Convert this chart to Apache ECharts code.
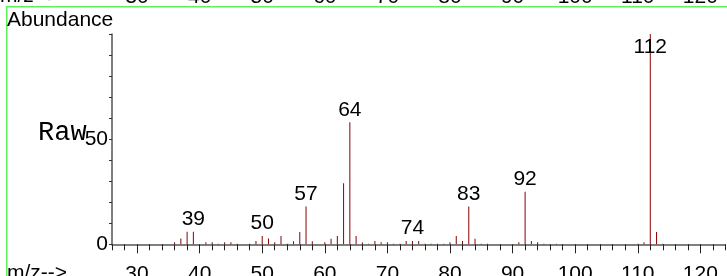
<!DOCTYPE html>
<html>
<head>
<meta charset="utf-8">
<style>
  html, body { margin: 0; padding: 0; background: #fff; }
  #chart { width: 727px; height: 276px; }
</style>
<script src="https://cdn.jsdelivr.net/npm/echarts@6/dist/echarts.min.js"></script>
</head>
<body>
<div id="chart"></div>
<script>
  // mass spectrum
  const mzMin = 26
  const mzMax = 124
  const mz = [36, 37, 38, 39, 41, 42, 43, 44, 45, 46, 48, 49, 50, 51, 52, 53, 54, 55, 56, 57, 58, 60, 61, 62, 63, 64, 65, 66, 67, 68, 69, 70, 71, 72, 73, 74, 75, 76, 77, 78, 79, 80, 81, 82, 83, 84, 85, 86, 91, 92, 93, 94, 95, 97, 110, 111, 112, 113, 114]
  const abundance = [1, 2.7, 6, 6, 1, 1, 0.3, 1, 1, 0.3, 0.3, 1.6, 4, 2.7, 1, 4, 0.3, 1.4, 5.8, 18, 1.5, 1, 2.6, 4, 29, 58, 4, 0.9, 0.3, 1.6, 1, 1, 0.3, 0.3, 1.6, 1.6, 1.6, 0.3, 0.3, 0.3, 0.3, 1, 4, 1.6, 18, 2.6, 0.3, 0.3, 1, 25, 1.6, 1, 0.3, 0.3, 0.3, 1, 100, 5.9, 0.3]
  const peakLabels = [39, 50, 57, 64, 74, 83, 92, 112]
  const yLabels = [0, 50]

  const font = "'Liberation Sans', Arial, sans-serif"
  const categories = []
  for (let v = mzMin; v <= mzMax; v++) categories.push(String(v))

  const barData = categories.map(c => {
    const m = Number(c)
    const i = mz.indexOf(m)
    const value = i >= 0 ? abundance[i] : 0
    if (peakLabels.includes(m)) {
      const item = { value, label: { show: true } }
      // the base peak label sits inside the plot, the bar runs through it
      if (m === 112) item.label = { show: true, position: 'insideTop', distance: 3 }
      return item
    }
    return value
  })

  const labelEvery10 = (value) => (Number(value) % 10 === 0 ? value : '')

  const chart = echarts.init(document.getElementById('chart'))
  chart.setOption({
    animation: false,
    grid: [
      { left: 112, right: 1.6, top: 34, bottom: 31.7, outerBoundsMode: 'none', containLabel: false },
      // previous panel's axis, cut off at the top
      { left: 112, right: 1.6, top: -65, height: 32.3, outerBoundsMode: 'none', containLabel: false },
    ],
    graphic: [
      { type: 'rect', left: 6, top: 6, shape: { width: 721, height: 1.5 }, style: { fill: '#5ef05e' } },
      { type: 'rect', left: 6, top: 6, shape: { width: 1.5, height: 270 }, style: { fill: '#5ef05e' } },
      { type: 'text', left: 7, top: 10, style: { text: 'Abundance', font: `21px ${font}`, fill: '#000' } },
      { type: 'text', left: 38, top: 119, style: { text: 'Raw', font: "27px 'Liberation Mono', 'Courier New', monospace", fill: '#000' } },
      { type: 'text', left: 7, top: 263, style: { text: 'm/z-->', font: `21px ${font}`, fill: '#000' } },
      { type: 'text', left: 0, top: -14, style: { text: 'm/z-->', font: `21px ${font}`, fill: '#000' } },
    ],
    xAxis: [
      {
        type: 'category',
        data: categories,
        boundaryGap: false,
        axisLine: { lineStyle: { color: '#555', width: 1.5 } },
        axisTick: {
          interval: (i, v) => Number(v) % 2 === 0 && Number(v) % 10 !== 0,
          length: 6,
          lineStyle: { color: '#222' },
        },
        axisLabel: {
          interval: 0,
          formatter: labelEvery10,
          margin: 19,
          fontSize: 21,
          fontFamily: font,
          color: '#000',
        },
        splitLine: { show: false },
      },
      {
        // longer major ticks every 10
        type: 'category',
        data: categories,
        boundaryGap: false,
        position: 'bottom',
        axisLine: { show: false },
        axisTick: {
          interval: (i, v) => Number(v) % 10 === 0,
          length: 9,
          lineStyle: { color: '#222' },
        },
        axisLabel: { show: false },
      },
      {
        type: 'category',
        gridIndex: 1,
        data: categories,
        boundaryGap: false,
        axisLine: { show: false },
        axisTick: { show: false },
        axisLabel: {
          interval: 0,
          formatter: labelEvery10,
          margin: 19,
          fontSize: 21,
          fontFamily: font,
          color: '#000',
        },
      },
    ],
    yAxis: [
      {
        type: 'value',
        min: 0,
        max: 100,
        interval: 10,
        axisLine: { show: true, lineStyle: { color: '#555', width: 1.5 } },
        axisTick: { show: true, length: 3, lineStyle: { color: '#333' } },
        axisLabel: {
          formatter: v => (yLabels.includes(v) ? v : ''),
          margin: 4,
          fontSize: 21,
          fontFamily: font,
          color: '#000',
        },
        splitLine: { show: false },
      },
      { type: 'value', gridIndex: 1, show: false },
    ],
    series: [
      {
        type: 'bar',
        data: barData,
        barWidth: 1,
        itemStyle: { color: '#8b0000' },
        label: {
          show: false,
          position: 'top',
          distance: 2,
          fontSize: 21,
          fontFamily: font,
          color: '#000',
          formatter: p => p.name,
        },
        silent: true,
      },
    ],
  })
</script>
</body>
</html>
